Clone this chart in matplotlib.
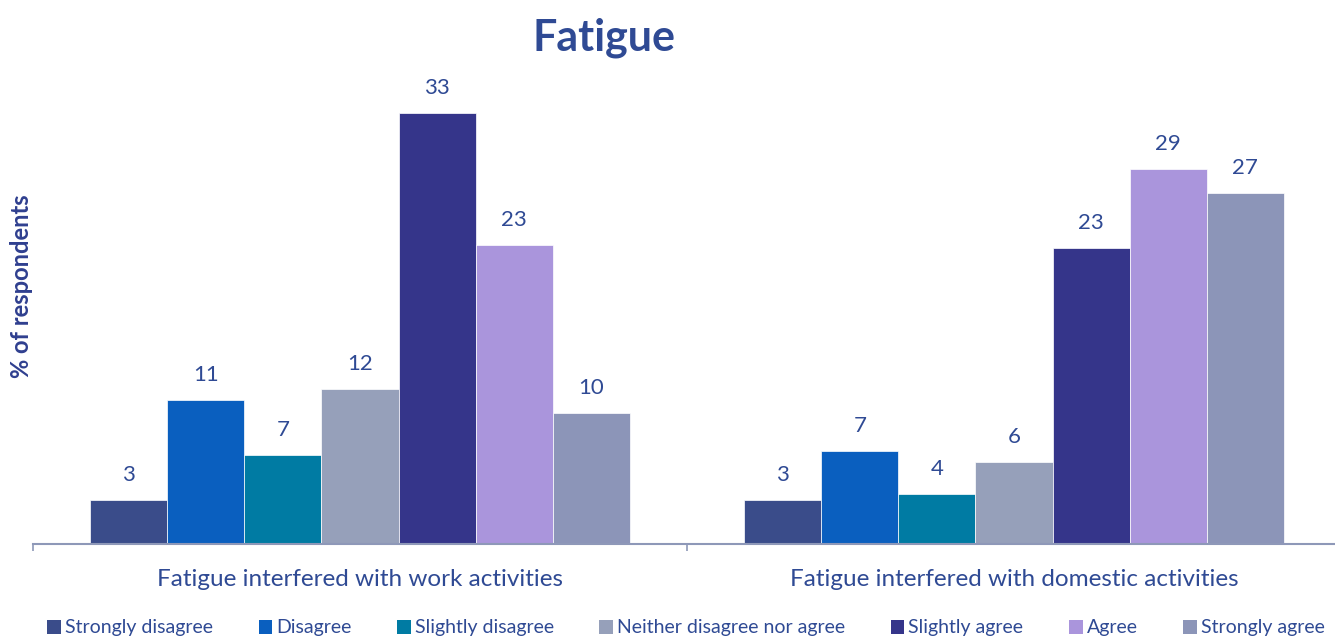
import matplotlib
matplotlib.use("Agg")
import matplotlib.pyplot as plt
import numpy as np
from matplotlib.patches import Patch

plt.rcParams['font.family'] = ['Lato', 'DejaVu Sans']

categories = ["Fatigue interfered with work activities",
              "Fatigue interfered with domestic activities"]
responses = ["Strongly disagree", "Disagree", "Slightly disagree",
             "Neither disagree nor agree", "Slightly agree", "Agree", "Strongly agree"]
work = [3.4, 11.0, 6.8, 11.9, 33.0, 22.9, 10.0]
domestic = [3.4, 7.1, 3.8, 6.3, 22.7, 28.7, 26.9]
colors = ["#3A4C8A", "#0A5FBF", "#007BA3", "#96A0BA", "#35358A", "#AA95DC", "#8C95B8"]

text_color = "#2F4A94"

fig = plt.figure(figsize=(13.35, 6.37), dpi=100)
ax = fig.add_axes([33/1335, 1-544/637, 1308/1335, (544-87)/637])

x = np.arange(len(categories))
n = len(responses)
w = 0.1178
for i in range(n):
    vals = [work[i], domestic[i]]
    pos = x + (i - (n-1)/2) * w
    bars = ax.bar(pos, vals, width=w, color=colors[i], edgecolor='white', linewidth=0.5, zorder=2)
    for b, v in zip(bars, vals):
        ax.text(b.get_x() + b.get_width()/2, v + 1.15, f"{v:.0f}", ha='center', va='bottom',
                fontsize=16, color=text_color)

ax.set_xlim(-0.5, 1.5)
ax.set_ylim(0, 35)
for s in ['top', 'right', 'left']:
    ax.spines[s].set_visible(False)
ax.spines['bottom'].set_color('#8E98B8')
ax.spines['bottom'].set_linewidth(1.5)
ax.set_yticks([])
ax.set_xticks([-0.5, 0.5, 1.5], minor=False)
ax.set_xticklabels([])
ax.tick_params(axis='x', which='major', length=5, color='#8E98B8', width=1.2)
ax.set_xticks(x, minor=True)
ax.set_xticklabels(categories, minor=True, fontsize=17.5, color=text_color)
ax.tick_params(axis='x', which='minor', length=0, pad=18)

fig.text(604/1335, 1-38/637, "Fatigue", ha='center', va='center', fontsize=31,
         fontweight='bold', color="#2F4A94")
fig.text(22/1335, 1-286/637, "% of respondents", rotation=90, ha='center', va='center',
         fontsize=17, fontweight='bold', color="#2F3F8F")

handles = [Patch(facecolor=c, edgecolor='none') for c in colors]
fig.legend(handles, responses, loc='center', bbox_to_anchor=(686/1335, 1-628/637), ncol=7,
           frameon=False, fontsize=14, handlelength=0.7, handleheight=0.7,
           handletextpad=0.2, columnspacing=2.35, labelcolor=text_color,
           borderpad=0, borderaxespad=0)

fig.savefig("out.png", dpi=100)
